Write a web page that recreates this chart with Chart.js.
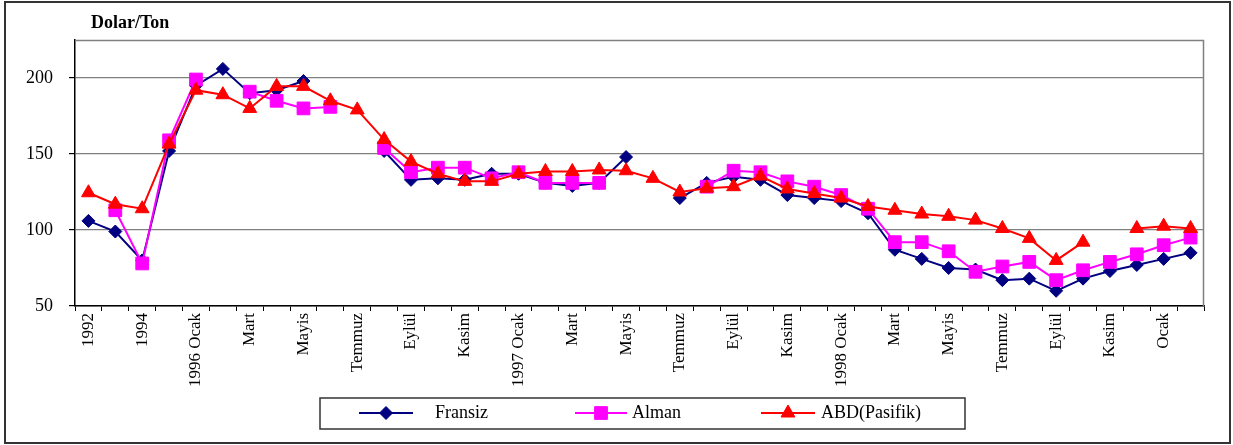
<!DOCTYPE html>
<html>
<head>
<meta charset="utf-8">
<script src="https://cdn.jsdelivr.net/npm/chart.js@4.4.0/dist/chart.umd.min.js"></script>
<style>
  html, body { margin: 0; padding: 0; background: #fff; }
  #wrap { position: relative; width: 1233px; height: 445px; }
</style>
</head>
<body>
<div id="wrap"><canvas id="chart"></canvas></div>
<script>
// ---- data
const labels = ['1992', '1993', '1994', '1995',
    '1996 Ocak', 'Subat', 'Mart', 'Nisan', 'Mayis', 'Haziran', 'Temmuz', 'Agustos', 'Eylül', 'Ekim', 'Kasim', 'Aralik',
    '1997 Ocak', 'Subat', 'Mart', 'Nisan', 'Mayis', 'Haziran', 'Temmuz', 'Agustos', 'Eylül', 'Ekim', 'Kasim', 'Aralik',
    '1998 Ocak', 'Subat', 'Mart', 'Nisan', 'Mayis', 'Haziran', 'Temmuz', 'Agustos', 'Eylül', 'Ekim', 'Kasim', 'Aralik',
    'Ocak', 'Subat'];

const fransiz = [106, 99, 80, 152, 195, 206, 190, 192, 198, null, null, 152,
    133, 134, 133, 137, 137, 131, 129, 131, 148, null, 121, 131, 135, 133, 123, 121,
    119, 111, 87, 81, 75, 74, 67, 68, 60, 68, 73, 77, 81, 85];

const alman = [null, 113, 78, 159, 199, null, 191, 185, 180, 181, null, 154,
    138, 141, 141, 134, 138, 131, 131, 131, null, null, null, 128.5, 139, 138, 132, 128.5,
    123, 114, 92, 92, 86, 72.5, 76, 79, 67, 73.5, 79, 84, 90, 95];

const abd = [124.5, 117, 114, 156.5, 192, 189, 180, 194.5, 194.5, 185, 179, 159.5,
    145, 137, 132, 132, 137, 138.5, 138.5, 139.5, 139, 134, 125, 127.5, 128.5, 135.5, 127, 124,
    121, 115.5, 113, 110.5, 109, 106.5, 101, 94.5, 80, 92, null, 101, 102.5, 101];

const yTicks = [50, 100, 150, 200];

const legendNames = ['Fransiz', 'Alman', 'ABD(Pasifik)'];

// ---- marker helper for the legend
function marker(ctx, style, x, y, r, color) {
    ctx.save();
    ctx.fillStyle = color;
    ctx.strokeStyle = color;
    ctx.lineWidth = 1;
    ctx.beginPath();
    if (style === 'rectRot') {
        ctx.moveTo(x, y - r); ctx.lineTo(x + r, y); ctx.lineTo(x, y + r); ctx.lineTo(x - r, y);
    } else if (style === 'rect') {
        let s = r * Math.SQRT1_2;
        ctx.rect(x - s, y - s, 2 * s, 2 * s);
    } else {
        ctx.moveTo(x, y - r);
        ctx.lineTo(x + r * 0.866, y + r * 0.5);
        ctx.lineTo(x - r * 0.866, y + r * 0.5);
    }
    ctx.closePath();
    ctx.fill();
    ctx.stroke();
    ctx.restore();
}

// frame, title, plot border and the boxed legend
const decor = {
    id: 'decor',
    beforeDraw(chart) {
        const ctx = chart.ctx;
        ctx.save();
        ctx.fillStyle = '#fff';
        ctx.fillRect(0, 0, chart.width, chart.height);
        ctx.restore();
    },
    beforeDatasetsDraw(chart) {
        const ctx = chart.ctx, a = chart.chartArea;
        ctx.save();
        ctx.strokeStyle = '#808080';
        ctx.lineWidth = 1.5;
        ctx.beginPath();
        ctx.moveTo(a.left, a.top + 0.5);
        ctx.lineTo(a.right - 0.5, a.top + 0.5);
        ctx.lineTo(a.right - 0.5, a.bottom);
        ctx.stroke();
        ctx.restore();
    },
    afterDraw(chart) {
        const ctx = chart.ctx;
        ctx.save();
        // outer frame
        ctx.strokeStyle = '#333';
        ctx.lineWidth = 2;
        ctx.strokeRect(5, 2, 1225, 441);

        // unit title
        ctx.fillStyle = '#000';
        ctx.font = 'bold 18px "Liberation Serif"';
        ctx.textBaseline = 'alphabetic';
        ctx.fillText('Dolar/Ton', 91, 28);

        // legend
        ctx.strokeStyle = '#333';
        ctx.lineWidth = 1.5;
        ctx.strokeRect(320, 398, 645, 31);
        const pos = [[359, 413, 435], [575, 627, 632], [761, 815, 821]];
        ctx.font = '18px "Liberation Serif"';
        chart.data.datasets.forEach((ds, i) => {
            const p = pos[i];
            const y = 413;
            ctx.strokeStyle = ds.borderColor;
            ctx.lineWidth = 2;
            ctx.beginPath();
            ctx.moveTo(p[0], y);
            ctx.lineTo(p[1], y);
            ctx.stroke();
            marker(ctx, ds.pointStyle, (p[0] + p[1]) / 2, y, ds.pointRadius, ds.borderColor);
            ctx.fillStyle = '#000';
            ctx.fillText(legendNames[i], p[2], 418);
        });
        ctx.restore();
    }
};

const serif = 'Liberation Serif';

const config = {
    type: 'line',
    data: {
        labels: labels,
        datasets: [
            {
                label: legendNames[0],
                data: fransiz,
                borderColor: '#000080',
                backgroundColor: '#000080',
                borderWidth: 2,
                pointStyle: 'rectRot',
                pointRadius: 6.5,
                pointBorderWidth: 1,
                order: 3,
                spanGaps: false,
                tension: 0
            },
            {
                label: legendNames[1],
                data: alman,
                borderColor: '#ff00ff',
                backgroundColor: '#ff00ff',
                borderWidth: 2,
                pointStyle: 'rect',
                pointRadius: 9,
                pointBorderWidth: 1,
                order: 2,
                spanGaps: false,
                tension: 0
            },
            {
                label: legendNames[2],
                data: abd,
                borderColor: '#ff0000',
                backgroundColor: '#ff0000',
                borderWidth: 2,
                pointStyle: 'triangle',
                pointRadius: 8,
                pointBorderWidth: 1,
                order: 1,
                spanGaps: false,
                tension: 0
            }
        ]
    },
    options: {
        responsive: true,
        maintainAspectRatio: false,
        animation: false,
        layout: { padding: { left: 0, right: 29, top: 40, bottom: 0 } },
        plugins: {
            legend: { display: false },
            tooltip: { enabled: false }
        },
        scales: {
            x: {
                offset: true,
                grid: { offset: true, drawOnChartArea: false, tickLength: 5, tickColor: '#000' },
                border: { color: '#000', width: 1.5 },
                ticks: {
                    autoSkip: false,
                    maxRotation: 90,
                    minRotation: 90,
                    padding: 2,
                    color: '#000',
                    font: { family: serif, size: 17 },
                    callback: function (v, i) {
                        return i % 2 === 0 ? this.getLabelForValue(v) : '';
                    }
                },
                afterFit: function (s) { s.height = 139; }
            },
            y: {
                min: 50,
                max: 225,
                afterBuildTicks: function (s) {
                    s.ticks = yTicks.map(v => ({ value: v }));
                },
                grid: { color: '#808080', lineWidth: 1.2, tickLength: 6, tickColor: '#000' },
                border: { color: '#000', width: 1.5 },
                ticks: { padding: 16, color: '#000', font: { family: serif, size: 18 } },
                afterFit: function (s) { s.width = 75; }
            }
        }
    },
    plugins: [decor]
};

var ctx = document.getElementById('chart').getContext('2d');
var myChart = new Chart(ctx, config);
</script>
</body>
</html>
